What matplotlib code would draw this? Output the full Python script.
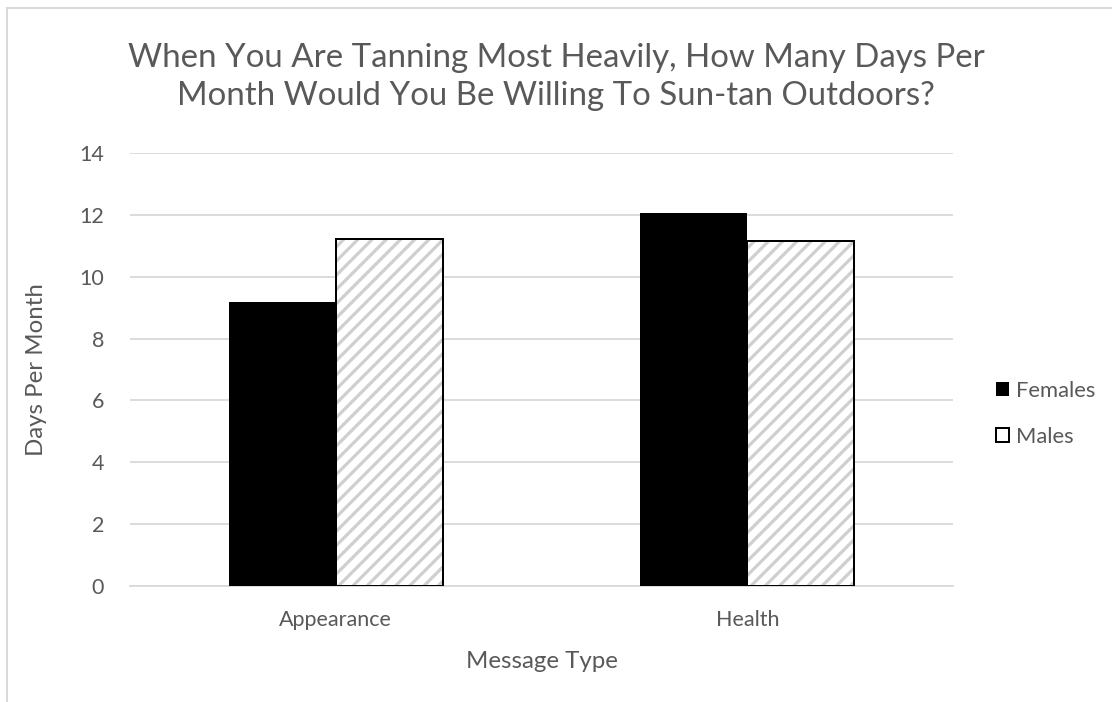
import numpy as np
import matplotlib.pyplot as plt
from matplotlib.patches import Rectangle

categories = ['Appearance', 'Health']
females = [9.17, 12.05]
males = [11.22, 11.16]

DPI = 128
def px(n):
    # pixel size -> points at this dpi
    return n * 72.0 / DPI

plt.rcParams['font.family'] = ['Lato', 'DejaVu Sans']
plt.rcParams['hatch.linewidth'] = px(3.2)

txt = '#595959'
grid = '#d9d9d9'
hatch_gray = '#cfcfcf'

fig = plt.figure(figsize=(1112 / DPI, 702 / DPI), dpi=DPI)
ax = fig.add_axes([130 / 1112, 1 - 586 / 702, 823 / 1112, 433 / 702])

x = np.arange(len(categories))
w = 0.26
ax.bar(x - w / 2, females, w, color='black', edgecolor='black', linewidth=0, label='Females', zorder=3)
# hatch drawn with gray edge, black outline on top
ax.bar(x + w / 2, males, w, color='white', edgecolor=hatch_gray, hatch='///', linewidth=0, zorder=3)
ax.bar(x + w / 2, males, w, fill=False, edgecolor='black', linewidth=px(2), zorder=4)

ax.set_xlim(-0.5, 1.5)
ax.set_ylim(0, 14)
ax.set_yticks(np.arange(0, 15, 2))
ax.set_xticks(x)
ax.set_xticklabels(categories)
ax.grid(axis='y', color=grid, linewidth=px(1.8), zorder=0)
ax.set_axisbelow(True)
for s in ['top', 'right', 'left']:
    ax.spines[s].set_visible(False)
ax.spines['bottom'].set_color(grid)
ax.spines['bottom'].set_linewidth(px(1.8))
ax.tick_params(axis='both', length=0, colors=txt, labelsize=px(21.5))
ax.tick_params(axis='y', pad=px(26))
ax.tick_params(axis='x', pad=px(24))

ax.set_ylabel('Days Per Month', color=txt, fontsize=px(24), labelpad=px(32))
ax.set_xlabel('Message Type', color=txt, fontsize=px(24), labelpad=px(21))

fig.text(0.5, 1 - 77 / 702, 'When You Are Tanning Most Heavily, How Many Days Per\nMonth Would You Be Willing To Sun-tan Outdoors?',
         ha='center', va='center', color=txt, fontsize=px(33), linespacing=1.3)

# legend handles: female solid, male outlined
h_f = Rectangle((0, 0), 1, 1, facecolor='black', edgecolor='black', linewidth=0)
h_m = Rectangle((0, 0), 1, 1, facecolor='white', edgecolor='black', linewidth=px(2))
leg = fig.legend([h_f, h_m], ['Females', 'Males'], loc='center left',
                 bbox_to_anchor=(987 / 1112, 1 - 414 / 702), frameon=False,
                 fontsize=px(22), handlelength=0.6, handleheight=0.6, handletextpad=0.3,
                 labelspacing=1.2, borderaxespad=0)
for t in leg.get_texts():
    t.set_color(txt)

# outer chart frame
fig.patches.append(Rectangle((7 / 1112, -0.1), 1.2, 1.1 - 8 / 702, transform=fig.transFigure,
                             fill=False, edgecolor=grid, linewidth=px(2), zorder=0))

fig.savefig('out.png', dpi=DPI)
